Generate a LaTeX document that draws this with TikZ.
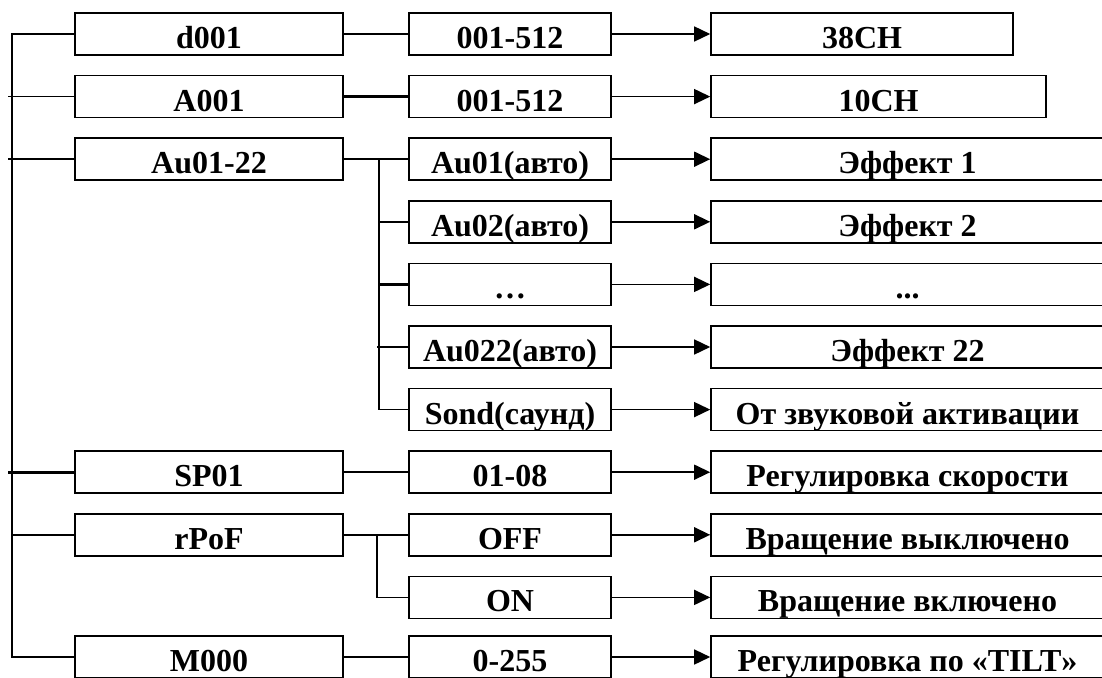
\documentclass[tikz,border=0pt]{standalone}
\usepackage{fontspec}
\setmainfont{Liberation Serif}
\usetikzlibrary{arrows.meta}
\begin{document}
\begin{tikzpicture}[x=1pt,y=-1pt,
  box/.style={draw, line width=1.6pt, rectangle, minimum height=42pt, inner xsep=0pt, inner ysep=0pt,
    text height=30pt, text depth=1pt, font=\fontsize{32}{36}\selectfont\bfseries},
  lbox/.style={box, minimum width=268pt},
  mbox/.style={box, minimum width=202pt},
  rbox/.style={box, minimum width=393pt},
  ln/.style={line width=1.5pt},
  lnb/.style={line width=2.6pt},
  arr/.style={line width=1.5pt, -{Triangle[length=16pt,width=15pt]}}
]
\useasboundingbox (0,0) rectangle (1102,677);

% left column
\node[lbox] (l0) at (209,34) {d001};
\node[lbox] (l1) at (209,96.6) {A001};
\node[lbox] (l2) at (209,159.2) {Au01-22};
\node[lbox] (l7) at (209,472.2) {SP01};
\node[lbox] (l8) at (209,534.8) {rPoF};
\node[lbox] (l10) at (209,657) {M000};

% middle column
\node[mbox] (m0) at (510,34) {001-512};
\node[mbox] (m1) at (510,96.6) {001-512};
\node[mbox] (m2) at (510,159.2) {Au01(авто)};
\node[mbox] (m3) at (510,221.8) {Au02(авто)};
\node[mbox] (m4) at (510,284.4) {…};
\node[mbox] (m5) at (510,347) {Au022(авто)};
\node[mbox] (m6) at (510,409.6) {Sond(саунд)};
\node[mbox] (m7) at (510,472.2) {01-08};
\node[mbox] (m8) at (510,534.8) {OFF};
\node[mbox] (m9) at (510,597.4) {ON};
\node[mbox] (m10) at (510,657) {0-255};

% right column
\node[box, minimum width=302pt] (r0) at (862,34) {38CH};
\node[box, minimum width=335pt] (r1) at (878.5,96.6) {10CH};
\node[rbox] (r2) at (907.5,159.2) {Эффект 1};
\node[rbox] (r3) at (907.5,221.8) {Эффект 2};
\node[rbox] (r4) at (907.5,284.4) {...};
\node[rbox] (r5) at (907.5,347) {Эффект 22};
\node[rbox] (r6) at (907.5,409.6) {От звуковой активации};
\node[rbox] (r7) at (907.5,472.2) {Регулировка скорости};
\node[rbox] (r8) at (907.5,534.8) {Вращение выключено};
\node[rbox] (r9) at (907.5,597.4) {Вращение включено};
\node[rbox] (r10) at (907.5,657) {Регулировка по «TILT»};

% bus coordinates
\coordinate (busB) at (12,657);
\coordinate (stub) at (8,0);
\coordinate (auX) at (379,0);
\coordinate (auS) at (377,0);
\coordinate (rX) at (377,0);

% left bus
\draw[lnb, line join=miter] (l0.west) -| (busB) -- (l10.west);
\draw[ln] (l1.west) -- (l1.west -| stub);
\draw[ln] (l2.west) -- (l2.west -| stub);
\draw[lnb] (l7.west) -- (l7.west -| stub);
\draw[lnb] (l8.west) -- (l8.west -| busB);

% left to middle
\draw[ln] (l0.east) -- (m0.west);
\draw[lnb] (l1.east) -- (m1.west);
\draw[ln] (l2.east) -- (m2.west);
\draw[ln] (l7.east) -- (m7.west);
\draw[ln] (l8.east) -- (m8.west);
\draw[ln] (l10.east) -- (m10.west);

% Au branch
\draw[lnb] (l2.east -| auX) -- (m6.west -| auX);
\draw[ln] (m6.west -| auX) -- (m6.west);
\draw[lnb] (m3.west -| auX) -- (m3.west);
\draw[lnb] (m4.west -| auX) -- (m4.west);
\draw[ln] (m5.west -| auS) -- (m5.west);

% rPoF branch
\draw[ln] (l8.east -| rX) |- (m9.west);

% arrows
\foreach \i in {0,...,10} {
  \draw[arr] (m\i.east) -- (r\i.west);
}
\end{tikzpicture}
\end{document}
